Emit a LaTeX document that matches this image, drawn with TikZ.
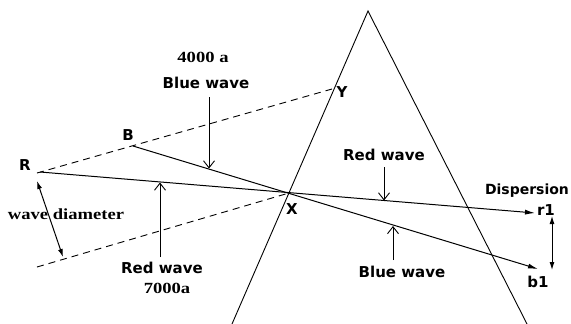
\documentclass[tikz,border=0pt]{standalone}
\usepackage{fontspec}
\newfontfamily\lblsans{DejaVu Sans}
\newfontfamily\lblserif[FakeStretch=1.2]{Liberation Serif}
\usetikzlibrary{arrows.meta}
\tikzset{
  ray/.style={line width=1pt},
  beam/.style={line width=0.9pt, dash pattern=on 7pt off 5pt},
  prismedge/.style={line width=0.9pt},
  callout/.style={line width=0.9pt, -{Straight Barb[length=7pt,width=11pt]}},
  raytip/.style={ray, -{Latex[length=10pt,width=5pt]}},
  dbl/.style={line width=1pt, {Latex[length=8pt,width=5pt]}-{Latex[length=8pt,width=5pt]}},
  sanslbl/.style={font=\lblsans\bfseries\fontsize{15}{15}\selectfont, inner sep=0pt, text height=11pt, text depth=0pt},
  seriflbl/.style={font=\lblserif\bfseries\fontsize{15.5}{15.5}\selectfont, inner sep=0pt, text height=10.5pt, text depth=0pt},
}
\begin{document}
\begin{tikzpicture}[x=1pt,y=-1pt]
\useasboundingbox (0,0) rectangle (571,324);
% key points
\coordinate (R) at (37,173);
\coordinate (Rs) at (40,172);
\coordinate (B) at (133,146);
\coordinate (Y) at (332,89);
\coordinate (X) at (289,193);
\coordinate (L) at (37,267);
\coordinate (r1) at (535,213);
\coordinate (b1) at (538,269);
\coordinate (apex) at (368,11);
\coordinate (pl) at (232,324);
\coordinate (pr) at (527,324);
% prism
\draw[prismedge] (pl) -- (apex) -- (pr);
% beam borders
\draw[beam] (R) -- (Y);
\draw[beam] (L) -- (X);
% rays
\draw[raytip] (Rs) -- (r1);
\draw[raytip] (B) -- (b1);
% labels of points
\node[sanslbl] (lR) at (25,165) {R};
\node[sanslbl] (lB) at (128,135) {B};
\node[sanslbl] (lY) at (342,92) {Y};
\node[sanslbl] (lX) at (292,209) {X};
\node[sanslbl] (lr1) at (546,210) {r1};
\node[sanslbl] (lb1) at (538,282) {b1};
% top-left blue wave callout
\node[seriflbl] (t4000) at (203,57.5) {4000 a};
\node[sanslbl] (tblue) at (206,83) {Blue wave};
\coordinate (bs) at (209,97);
\coordinate (be) at (209,168.5);
\draw[callout] (bs) -- (be);
% lower-left red wave callout
\node[sanslbl] (tred) at (162,268) {Red wave};
\node[seriflbl] (t7000) at (167,288) {7000a};
\coordinate (rs) at (160,257);
\coordinate (re) at (160,182.5);
\draw[callout] (rs) -- (re);
% red wave in prism
\node[sanslbl] (tred2) at (384,155) {Red wave};
\coordinate (r2s) at (384,167);
\coordinate (r2e) at (384,200.5);
\draw[callout] (r2s) -- (r2e);
% blue wave in prism
\node[sanslbl] (tblue2) at (402,272) {Blue wave};
\coordinate (b2s) at (393,260);
\coordinate (b2e) at (393,226);
\draw[callout] (b2s) -- (b2e);
% wave diameter
\node[seriflbl] (twd) at (66,214.5) {wave diameter};
\coordinate (wd1) at (37,181);
\coordinate (wd2) at (63,257);
\draw[dbl] (wd1) -- (wd2);
% dispersion
\node[sanslbl, font=\lblsans\bfseries\fontsize{14}{14}\selectfont] (tdisp) at (527,189) {Dispersion};
\coordinate (d1) at (552,216);
\coordinate (d2) at (552,270);
\draw[dbl] (d1) -- (d2);
\end{tikzpicture}
\end{document}
